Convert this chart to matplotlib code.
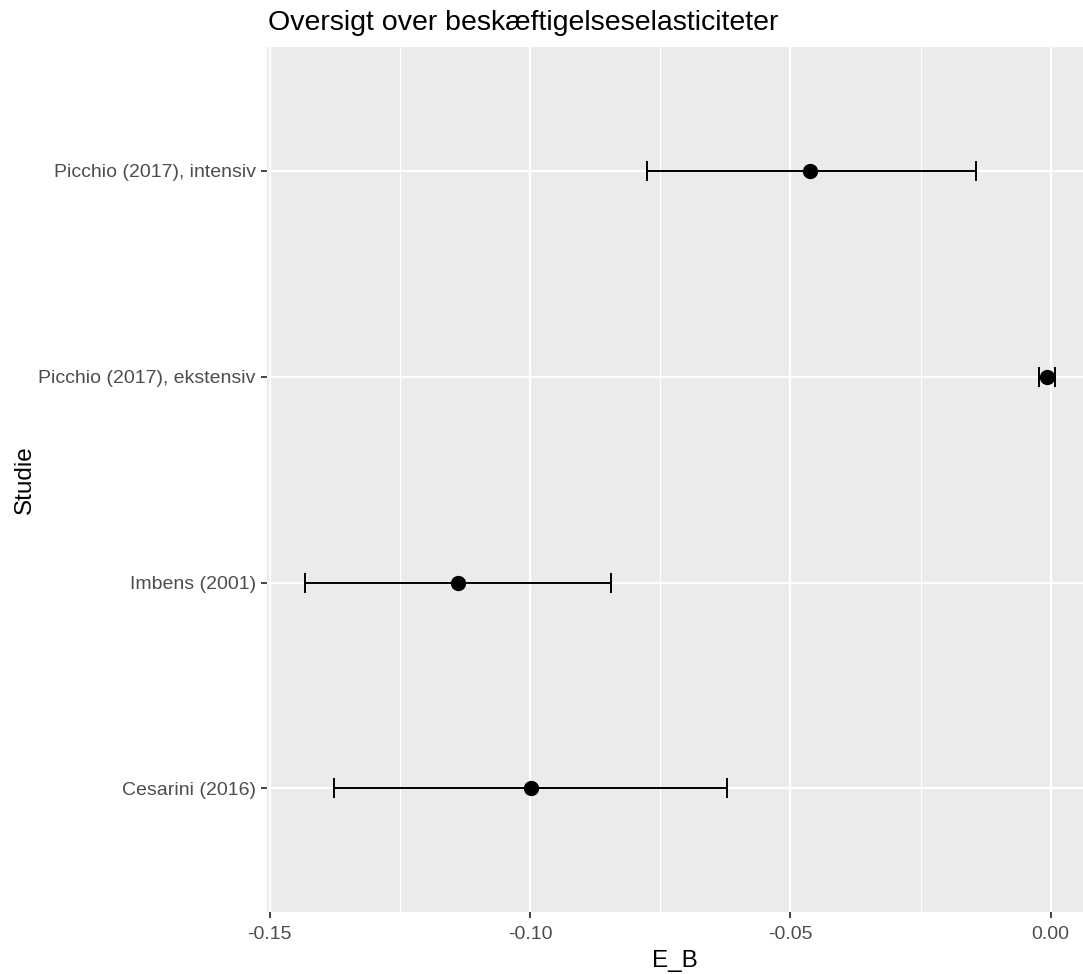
import numpy as np
import matplotlib.pyplot as plt
from matplotlib.ticker import MultipleLocator

plt.rcParams['font.family'] = ['Liberation Sans', 'DejaVu Sans']

# studies, bottom to top
studier = ['Cesarini (2016)', 'Imbens (2001)',
           'Picchio (2017), ekstensiv', 'Picchio (2017), intensiv']
estimat = [-0.0999, -0.1138, -0.0007, -0.0462]
nedre = [-0.1377, -0.1432, -0.0022, -0.0776]
oevre = [-0.0622, -0.0845, 0.0009, -0.0144]

x_ticks = [-0.15, -0.10, -0.05, 0.00]
x_ticklabels = ['-0.15', '-0.10', '-0.05', '0.00']

est = np.array(estimat)
err = np.vstack([est - np.array(nedre), np.array(oevre) - est])
ypos = np.arange(1, len(studier) + 1)

fig = plt.figure(figsize=(10.83, 9.74), dpi=100)
ax = fig.add_axes([266.7 / 1083, 62 / 974, 1 - 266.7 / 1083, (912 - 47.3) / 974])
ax.set_facecolor('#EBEBEB')
for s in ax.spines.values():
    s.set_visible(False)

ax.errorbar(est, ypos, xerr=err, fmt='o', color='black', ecolor='black',
            markersize=10, elinewidth=1.4, capsize=7.4, capthick=1.4, zorder=3)

ax.set_xlim(-0.1506, 0.0062)
ax.set_ylim(0.4, len(studier) + 0.6)
ax.set_xticks(x_ticks)
ax.set_xticklabels(x_ticklabels)
ax.xaxis.set_minor_locator(MultipleLocator(0.025))
ax.set_yticks(ypos)
ax.set_yticklabels(studier)

ax.grid(which='major', color='white', linewidth=1.6, zorder=0)
ax.grid(which='minor', axis='x', color='white', linewidth=0.8, zorder=0)
ax.set_axisbelow(True)
ax.tick_params(which='major', length=4.3, width=1.3, color='#333333',
               labelsize=14, labelcolor='#4D4D4D', pad=3.5)
ax.tick_params(axis='x', which='major', pad=6)
ax.tick_params(which='minor', length=0)

ax.set_xlabel('E_B', fontsize=17.5, color='black', labelpad=5)
ax.set_ylabel('Studie', fontsize=17.5, color='black', labelpad=2)
fig.text(268 / 1083, 1 - 30 / 974, 'Oversigt over beskæftigelseselasticiteter',
         fontsize=20.5, color='black', ha='left', va='baseline')

fig.savefig('out.png', dpi=100)
